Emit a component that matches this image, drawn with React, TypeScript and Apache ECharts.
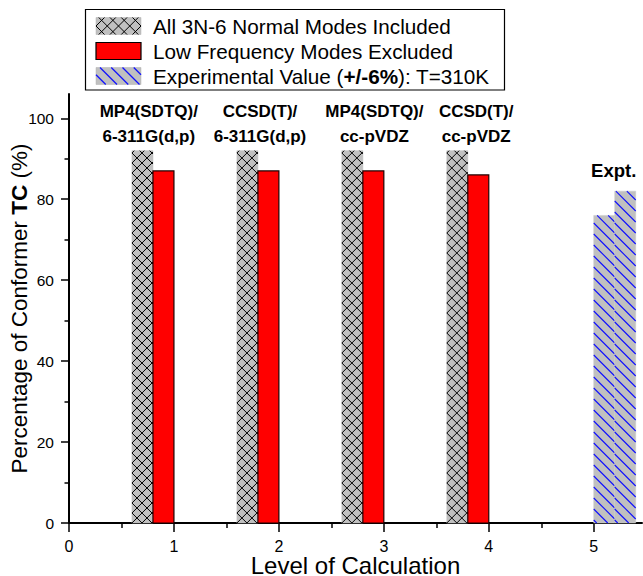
import React, { useEffect, useRef } from 'react';
import * as echarts from 'echarts';

const FONT = "'Liberation Sans', Arial, Helvetica, sans-serif";

// ---- data ----
const levels = [1, 2, 3, 4];
const allModesIncluded = [92, 92, 92, 92];
const lowFreqExcluded = [87, 87, 87, 86];
const exptLevel = 5;
const exptValues = [76, 82];
const methodLabels = [
  'MP4(SDTQ)/\n6-311G(d,p)',
  'CCSD(T)/\n6-311G(d,p)',
  'MP4(SDTQ)/\ncc-pVDZ',
  'CCSD(T)/\ncc-pVDZ',
];
const methodLabelX = [0.76, 1.82, 2.91, 3.88];
const methodLabelY = 98.6;
const exptLabel = 'Expt.';
const exptLabelPos = [5.19, 87.1];
const xTicks = [0, 1, 2, 3, 4, 5];
const xMinorTicks = [0.5, 1.5, 2.5, 3.5, 4.5];
const yTicks = [0, 20, 40, 60, 80, 100];
const yMinorTicks = [10, 30, 50, 70, 90];
const legendNames = [
  'All 3N-6 Normal Modes Included',
  'Low Frequency Modes Excluded',
];

// ---- styles ----
const BAR_W = 0.2;
const GRAY = '#C0C0C0';
const RED = '#FF0000';
const BLUE = '#1010FF';
const LEGEND_FS = 20.7;

type Seg = [number, number, number, number];

function hatchSegs(L: number, T: number, R: number, B: number, p: number, dir: number, ax: number, ay: number): Seg[] {
  const segs: Seg[] = [];
  if (dir > 0) {
    const anchor = ay - ax;
    const cMin = T - R, cMax = B - L;
    const start = anchor + Math.ceil((cMin - anchor) / p) * p;
    for (let c = start; c <= cMax; c += p) {
      const xs = Math.max(L, T - c), xe = Math.min(R, B - c);
      if (xe - xs > 0.3) segs.push([xs, xs + c, xe, xe + c]);
    }
  } else {
    const anchor = ay + ax;
    const cMin = T + L, cMax = B + R;
    const start = anchor + Math.ceil((cMin - anchor) / p) * p;
    for (let c = start; c <= cMax; c += p) {
      const xs = Math.max(L, c - B), xe = Math.min(R, c - T);
      if (xe - xs > 0.3) segs.push([xs, c - xs, xe, c - xe]);
    }
  }
  return segs;
}

function segsToPath(segs: Seg[]): string {
  return segs
    .map((s) => `M${s[0].toFixed(2)} ${s[1].toFixed(2)}L${s[2].toFixed(2)} ${s[3].toFixed(2)}`)
    .join('');
}

function barRect(api: any, x0: number, x1: number, v: number) {
  const p0 = api.coord([x0, v]);
  const p1 = api.coord([x1, 0]);
  return { L: p0[0], T: p0[1], R: p1[0], B: p1[1] };
}

function legendLines(segs: Seg[], color: string, width: number) {
  return segs.map((s) => ({
    type: 'line',
    z: 20,
    shape: { x1: s[0], y1: s[1], x2: s[2], y2: s[3] },
    style: { stroke: color, lineWidth: width },
    silent: true,
  }));
}

export default function App() {
  const ref = useRef<HTMLDivElement>(null);

  useEffect(() => {
    if (!ref.current) return;
    const chart = echarts.init(ref.current, undefined, { renderer: 'svg' });

    const symX = 96, symW = 45, symH = 17;
    const rowsY = [17.5, 42.5, 67.5];
    const crossSegs = [
      ...hatchSegs(symX, rowsY[0], symX + symW, rowsY[0] + symH, 11.25, 1, symX, rowsY[0] + symH / 2),
      ...hatchSegs(symX, rowsY[0], symX + symW, rowsY[0] + symH, 11.25, -1, symX, rowsY[0] + symH / 2),
    ];
    const blueSegs = hatchSegs(symX, rowsY[2], symX + symW, rowsY[2] + symH, 11.25, 1, symX + 4, rowsY[2]);

    const txt = (y: number, text: string, rich?: any) => ({
      type: 'text',
      z: 20,
      x: 153,
      y,
      silent: true,
      style: { text, fontSize: LEGEND_FS, fontFamily: FONT, fill: '#000', verticalAlign: 'middle', align: 'left', ...(rich ? { rich } : {}) },
    });

    const option: any = {
      animation: false,
      backgroundColor: '#ffffff',
      grid: { left: 69, right: 1, top: 94, bottom: 53, containLabel: false, outerBoundsMode: 'none' },
      xAxis: [
        {
          type: 'value',
          min: 0,
          max: 5.46,
          position: 'bottom',
          name: 'Level of Calculation',
          nameLocation: 'middle',
          nameGap: 31,
          nameMoveOverlap: false,
          nameTextStyle: { fontSize: 24, lineHeight: 22, fontFamily: FONT, color: '#000' },
          axisLine: { show: true, onZero: false, lineStyle: { color: '#000', width: 2 } },
          axisTick: { show: true, customValues: xTicks, length: 9, lineStyle: { color: '#000', width: 1.5 } },
          axisLabel: { customValues: xTicks, fontSize: 16, lineHeight: 14, fontFamily: FONT, color: '#000', margin: 16 },
          splitLine: { show: false },
        },
        {
          type: 'value',
          min: 0,
          max: 5.46,
          position: 'bottom',
          axisLine: { show: false },
          axisTick: { show: true, customValues: xMinorTicks, length: 5, lineStyle: { color: '#000', width: 1.5 } },
          axisLabel: { show: false },
          splitLine: { show: false },
        },
      ],
      yAxis: [
        {
          type: 'value',
          min: 0,
          max: 106,
          position: 'left',
          name: '{n|Percentage of Conformer }{b|TC}{n| (%)}',
          nameLocation: 'middle',
          nameGap: 38,
          nameMoveOverlap: false,
          nameTextStyle: {
            fontSize: 22.5,
            fontFamily: FONT,
            color: '#000',
            rich: {
              n: { fontSize: 22.5, fontFamily: FONT, color: '#000' },
              b: { fontSize: 22.5, fontFamily: FONT, color: '#000', fontWeight: 'bold' },
            },
          },
          axisLine: { show: true, onZero: false, lineStyle: { color: '#000', width: 2 } },
          axisTick: { show: true, customValues: yTicks, length: 8, lineStyle: { color: '#000', width: 1.5 } },
          axisLabel: { customValues: yTicks, fontSize: 15.5, fontFamily: FONT, color: '#000', margin: 15 },
          splitLine: { show: false },
        },
        {
          type: 'value',
          min: 0,
          max: 106,
          position: 'left',
          axisLine: { show: false },
          axisTick: { show: true, customValues: yMinorTicks, length: 4.5, lineStyle: { color: '#000', width: 1.5 } },
          axisLabel: { show: false },
          splitLine: { show: false },
        },
      ],
      graphic: [
        {
          type: 'rect',
          z: 10,
          silent: true,
          shape: { x: 85.5, y: 9.5, width: 419, height: 80.5 },
          style: { fill: '#fff', stroke: '#000', lineWidth: 1.2 },
        },
        { type: 'rect', z: 15, silent: true, shape: { x: symX, y: rowsY[0], width: symW, height: symH }, style: { fill: GRAY, stroke: '#b0b0b0', lineWidth: 0.5 } },
        ...legendLines(crossSegs, '#000', 1),
        { type: 'rect', z: 15, silent: true, shape: { x: symX, y: rowsY[1], width: symW, height: symH }, style: { fill: RED, stroke: '#000', lineWidth: 1.2 } },
        { type: 'rect', z: 15, silent: true, shape: { x: symX, y: rowsY[2], width: symW, height: symH }, style: { fill: GRAY, stroke: '#b0b0b0', lineWidth: 0.5 } },
        ...legendLines(blueSegs, BLUE, 1.2),
        txt(26, legendNames[0]),
        txt(51, legendNames[1]),
        txt(76, '{n|Experimental Value (}{b|+/-6%}{n|): T=310K}', {
          n: { fontSize: LEGEND_FS, fontFamily: FONT, fill: '#000' },
          b: { fontSize: LEGEND_FS, fontFamily: FONT, fill: '#000', fontWeight: 'bold' },
        }),
      ],
      series: [
        {
          name: legendNames[0],
          type: 'custom',
          clip: false,
          silent: true,
          data: levels.map((l, i) => [l, allModesIncluded[i]]),
          renderItem: (params: any, api: any) => {
            const l = api.value(0), v = api.value(1);
            const r = barRect(api, l - 2 * BAR_W, l - BAR_W, v);
            const segs = [
              ...hatchSegs(r.L, r.T, r.R, r.B, 10, 1, r.L, r.B),
              ...hatchSegs(r.L, r.T, r.R, r.B, 10, -1, r.L, r.B),
            ];
            return {
              type: 'group',
              children: [
                { type: 'rect', shape: { x: r.L, y: r.T, width: r.R - r.L, height: r.B - r.T }, style: { fill: GRAY, stroke: '#b8b8b8', lineWidth: 0.5 } },
                { type: 'path', shape: { pathData: segsToPath(segs) }, style: { fill: 'none', stroke: '#000', lineWidth: 1 } },
              ],
            };
          },
        },
        {
          name: legendNames[1],
          type: 'custom',
          clip: false,
          silent: true,
          data: levels.map((l, i) => [l, lowFreqExcluded[i]]),
          renderItem: (params: any, api: any) => {
            const l = api.value(0), v = api.value(1);
            const r = barRect(api, l - BAR_W, l, v);
            return {
              type: 'rect',
              shape: { x: r.L, y: r.T, width: r.R - r.L, height: r.B - r.T },
              style: { fill: RED, stroke: '#200000', lineWidth: 1.2 },
            };
          },
        },
        {
          name: 'Experimental Value',
          type: 'custom',
          clip: false,
          silent: true,
          data: exptValues.map((v, i) => [exptLevel, v, i]),
          renderItem: (params: any, api: any) => {
            const l = api.value(0), v = api.value(1), i = api.value(2);
            const r = barRect(api, l + i * BAR_W, l + (i + 1) * BAR_W, v);
            const segs = hatchSegs(r.L, r.T, r.R, r.B, 11, 1, r.L + 3, r.B);
            return {
              type: 'group',
              children: [
                { type: 'rect', shape: { x: r.L, y: r.T, width: r.R - r.L, height: r.B - r.T }, style: { fill: GRAY, stroke: '#c8c8c8', lineWidth: 0.5 } },
                { type: 'path', shape: { pathData: segsToPath(segs) }, style: { fill: 'none', stroke: BLUE, lineWidth: 1.1 } },
              ],
            };
          },
        },
        {
          name: 'method labels',
          type: 'custom',
          clip: false,
          silent: true,
          data: methodLabelX.map((x, i) => [x, methodLabelY, i]),
          renderItem: (params: any, api: any) => {
            const p = api.coord([api.value(0), api.value(1)]);
            const i = api.value(2);
            return {
              type: 'text',
              x: p[0],
              y: p[1],
              style: {
                text: methodLabels[i],
                fontSize: 17,
                fontWeight: 'bold',
                fontFamily: FONT,
                fill: '#000',
                align: 'center',
                verticalAlign: 'middle',
                lineHeight: 25,
              },
            };
          },
        },
        {
          name: 'expt label',
          type: 'custom',
          clip: false,
          silent: true,
          data: [exptLabelPos],
          renderItem: (params: any, api: any) => {
            const p = api.coord([api.value(0), api.value(1)]);
            return {
              type: 'text',
              x: p[0],
              y: p[1],
              style: {
                text: exptLabel,
                fontSize: 18.5,
                fontWeight: 'bold',
                fontFamily: FONT,
                fill: '#000',
                align: 'center',
                verticalAlign: 'middle',
              },
            };
          },
        },
      ],
    };

    chart.setOption(option);
    return () => {
      chart.dispose();
    };
  }, []);

  return (
    <div
      ref={ref}
      style={{ position: 'fixed', left: 0, top: 0, width: 643, height: 576, background: '#fff' }}
    />
  );
}
